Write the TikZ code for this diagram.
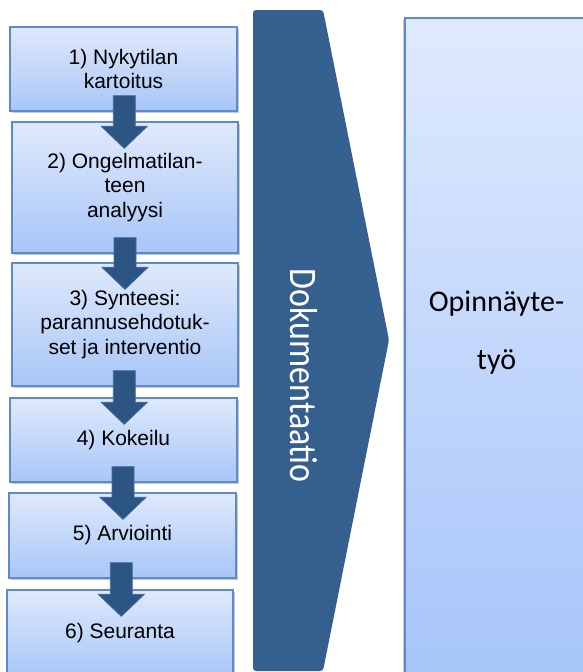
\documentclass[tikz,border=0pt]{standalone}
\usepackage{fontspec}
\setmainfont{Liberation Sans}
\newfontfamily\calfont{Carlito}
\usetikzlibrary{calc,shadows}
\definecolor{boxtop}{RGB}{223,233,252}
\definecolor{boxbot}{RGB}{168,198,247}
\definecolor{boxborder}{RGB}{92,138,204}
\definecolor{arrowfill}{RGB}{45,85,132}
\definecolor{arrowborder}{RGB}{66,106,156}
\definecolor{chevfill}{RGB}{53,95,142}
\definecolor{thesistop}{RGB}{224,234,253}
\definecolor{thesisbot}{RGB}{166,196,250}
\newcommand\flowarrow[2]{%
  \path let \p1=(#1.south), \p2=(#2.north), \n1={(\x1+\x2)/2} in
    [fill=arrowfill, draw=arrowborder, line width=0.8pt, line join=miter]
    (\n1-11pt,\y1+16pt) -- (\n1+11pt,\y1+16pt) -- (\n1+11pt,\y2-5pt)
    -- (\n1+23pt,\y2-5pt) -- (\n1,\y2-27pt) -- (\n1-23pt,\y2-5pt)
    -- (\n1-11pt,\y2-5pt) -- cycle;}
\begin{document}
\begin{tikzpicture}[x=1pt,y=-1pt,
  stepbox/.style={draw=boxborder, line width=1.3pt, top color=boxtop,
    bottom color=boxbot, align=center, inner sep=0pt,
    font=\fontsize{21}{24.5}\selectfont,
    drop shadow={shadow xshift=1.5pt, shadow yshift=-1.5pt, opacity=0.3, fill=black!70}},
  shadebox/.style={draw=boxborder, line width=1.5pt, top color=thesistop,
    bottom color=thesisbot, inner sep=0pt,
    drop shadow={shadow xshift=-1.5pt, shadow yshift=-1.5pt, opacity=0.3, fill=black!70}}]
\useasboundingbox (0,0) rectangle (583,672);
% right box
\node[shadebox, minimum width=186pt, minimum height=670pt, anchor=north west] (thesis) at (404,17) {};
\node[font=\calfont\fontsize{30}{58}\selectfont, align=center, inner sep=0pt] (thesistext) at (496.5,333) {Opinnäyte-\\työ};
% documentation chevron
\fill[chevfill, rounded corners=3pt] (253,10) -- (323,10) -- (389,340) -- (323,671) -- (253,671) -- cycle;
\coordinate (chevmid) at (304,375.5);
\node[rotate=-90, text=white, inner sep=0pt] (doc) at (chevmid)
  {\scalebox{0.87}[1]{\calfont\fontsize{39}{39}\selectfont Dokumentaatio}};
% steps
\node[stepbox, minimum width=227pt, minimum height=84pt] (b1) at (123.5,69) {1) Nykytilan\\kartoitus};
\node[stepbox, minimum width=226pt, minimum height=131pt] (b2) at (125,187.5) {2) Ongelmatilan-\\teen\\analyysi};
\node[stepbox, minimum width=226pt, minimum height=123pt] (b3) at (125,324.5) {3) Synteesi:\\parannusehdotuk-\\set ja interventio};
\node[stepbox, minimum width=227pt, minimum height=84pt] (b4) at (123.5,440) {4) Kokeilu};
\node[stepbox, minimum width=227pt, minimum height=85pt] (b5) at (122.5,535.5) {5) Arviointi};
\node[stepbox, minimum width=226pt, minimum height=86pt] (b6) at (120,633) {6) Seuranta};
\flowarrow{b1}{b2}
\flowarrow{b2}{b3}
\flowarrow{b3}{b4}
\flowarrow{b4}{b5}
\flowarrow{b5}{b6}
\end{tikzpicture}
\end{document}
